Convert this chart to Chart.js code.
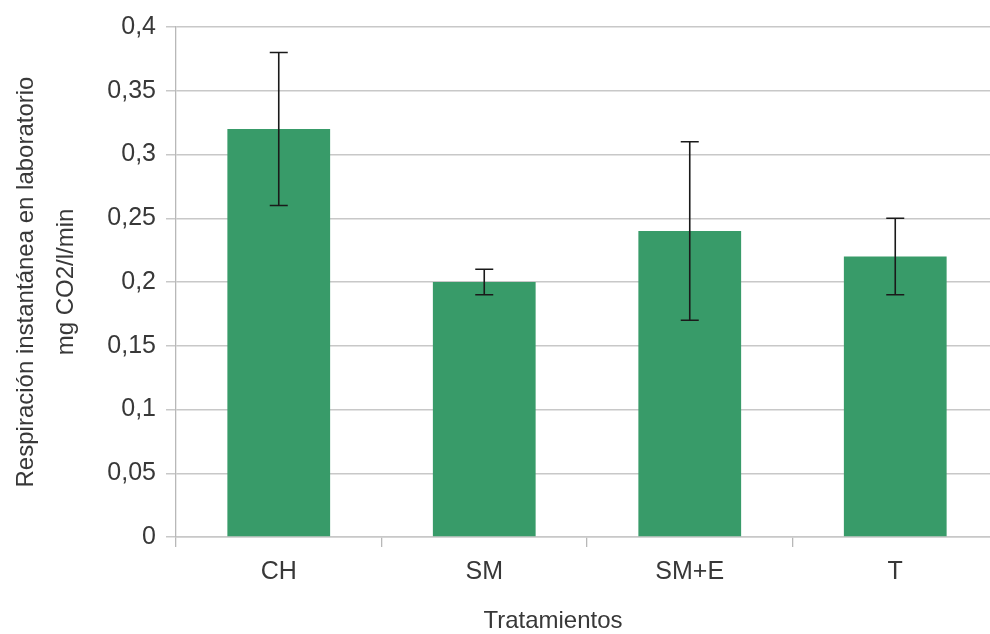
<!DOCTYPE html>
<html>
<head>
<meta charset="utf-8">
<script src="https://cdn.jsdelivr.net/npm/chart.js@4"></script>
<style>
  html, body { margin: 0; padding: 0; background: #ffffff; overflow: hidden; }
  #wrap { width: 1000px; height: 634px; }
</style>
</head>
<body>
<div id="wrap"><canvas id="c" width="1000" height="634"></canvas></div>
<script>
// Respiración instantánea por tratamiento (media y rango de error)
const categories = ['CH', 'SM', 'SM+E', 'T'];
const means      = [0.32, 0.20, 0.24, 0.22];
const errLow     = [0.26, 0.19, 0.17, 0.19];
const errHigh    = [0.38, 0.21, 0.31, 0.25];
const yTicks     = [0, 0.05, 0.1, 0.15, 0.2, 0.25, 0.3, 0.35, 0.4];

const FONT = '"Liberation Sans", Arial, sans-serif';
const TEXT = '#383838';

// Error bars drawn from errLow / errHigh through the chart's own scales
const errorBars = {
  id: 'errorBars',
  afterDatasetsDraw(chart) {
    const { ctx, scales: { y } } = chart;
    const meta = chart.getDatasetMeta(0);
    ctx.save();
    ctx.strokeStyle = '#1a1a1a';
    ctx.lineWidth = 1.6;
    meta.data.forEach((bar, i) => {
      const cx = bar.x;
      const yHi = y.getPixelForValue(errHigh[i]);
      const yLo = y.getPixelForValue(errLow[i]);
      const cap = 9;
      ctx.beginPath();
      ctx.moveTo(cx, yHi); ctx.lineTo(cx, yLo);
      ctx.moveTo(cx - cap, yHi); ctx.lineTo(cx + cap, yHi);
      ctx.moveTo(cx - cap, yLo); ctx.lineTo(cx + cap, yLo);
      ctx.stroke();
    });
    ctx.restore();
  }
};

// x-axis title
const xTitle = {
  id: 'xTitle',
  afterDraw(chart) {
    const { ctx } = chart;
    ctx.save();
    ctx.fillStyle = TEXT;
    ctx.font = '24px ' + FONT;
    ctx.textAlign = 'center';
    ctx.textBaseline = 'middle';
    ctx.fillText('Tratamientos', 553, 621);
    ctx.restore();
  }
};

const fmt = v => (Math.round(v * 100) / 100).toString().replace('.', ',');

new Chart(document.getElementById('c'), {
  type: 'bar',
  data: {
    labels: categories,
    datasets: [{
      data: means,
      backgroundColor: '#389b69',
      borderWidth: 0,
      categoryPercentage: 0.5,
      barPercentage: 1.0
    }]
  },
  options: {
    responsive: false,
    devicePixelRatio: 1,
    animation: false,
    layout: { padding: { left: 0, right: 2, top: 27, bottom: 0 } },
    plugins: { legend: { display: false }, tooltip: { enabled: false } },
    scales: {
      x: {
        grid: {
          offset: true,
          drawOnChartArea: false,
          drawTicks: true,
          tickLength: 10,
          color: '#b8b8b8',
          lineWidth: 1.3
        },
        border: { display: true, color: '#c8c8c8', width: 1.5 },
        ticks: { color: TEXT, font: { family: FONT, size: 25 }, padding: 10 },
        afterFit(scale) { scale.height = 97; }
      },
      y: {
        min: 0,
        max: 0.4,
        afterBuildTicks(scale) { scale.ticks = yTicks.map(v => ({ value: v })); },
        grid: { color: '#c8c8c8', lineWidth: 1.5, tickLength: 10 },
        border: { display: true, color: '#b8b8b8', width: 1.3 },
        ticks: {
          color: TEXT,
          font: { family: FONT, size: 25 },
          padding: 10,
          callback: v => fmt(v)
        },
        title: {
          display: true,
          text: ['Respiración instantánea en laboratorio', 'mg CO2/l/min'],
          color: TEXT,
          font: { family: FONT, size: 24, lineHeight: 1.667 },
          padding: { top: 6, bottom: 0 }
        },
        afterFit(scale) { scale.width = 176; }
      }
    }
  },
  plugins: [errorBars, xTitle]
});
</script>
</body>
</html>
